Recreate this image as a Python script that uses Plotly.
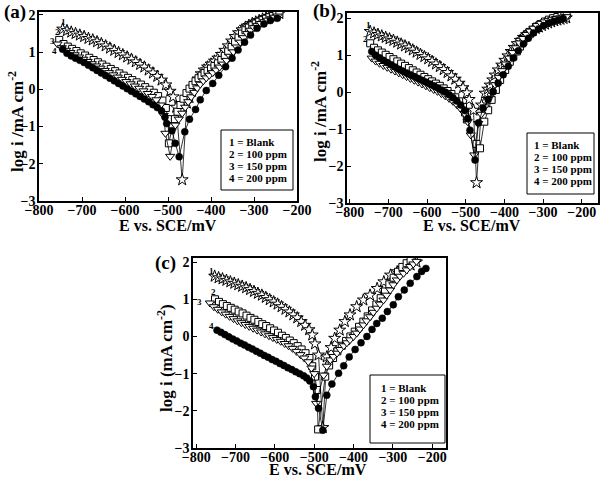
import plotly.graph_objects as go

# ---------------- DATA ----------------
# Panel (a)
a_blank_E = [-745,-735,-725,-715,-705,-695,-685,-675,-665,-655,-645,-635,-625,-615,-605,-595,-585,-575,-565,-555,-545,-535,-525,-515,-505,-495,-488,-481,-467,
             -456,-450,-444,-437,-430,-423,-416,-408,-400,-392,-384,-376,-368,-360,-352,-344,-336,-328,-320,-312,-304,-296,-288,-280,-272,-264,-256,-248,-241]
a_blank_I = [1.62,1.58,1.54,1.50,1.46,1.42,1.37,1.33,1.28,1.23,1.17,1.11,1.05,0.99,0.93,0.87,0.81,0.74,0.67,0.60,0.52,0.44,0.35,0.25,0.12,-0.05,-0.20,-0.48,-2.43,
             -0.37,-0.22,-0.05,0.12,0.28,0.42,0.52,0.60,0.68,0.76,0.84,0.94,1.05,1.17,1.30,1.42,1.52,1.60,1.67,1.72,1.77,1.81,1.85,1.89,1.93,1.96,1.99,2.02,2.04]

a_100_E = [-753,-743,-733,-723,-713,-703,-693,-683,-673,-663,-653,-643,-633,-623,-613,-603,-593,-583,-573,-563,-553,-543,-533,-523,-513,-505,-500,-498,
           -490,-484,-478,-471,-464,-457,-450,-443,-436,-429,-422,-415,-408,-400,-392,-384,-376,-368,-360,-352,-344,-336,-328,-320,-312,-304,-296,-288,-280,-272,-264,-256,-248,-241]
a_100_I = [1.33,1.22,1.15,1.09,1.03,0.97,0.91,0.85,0.79,0.73,0.67,0.61,0.55,0.49,0.43,0.37,0.31,0.25,0.19,0.13,0.06,-0.01,-0.09,-0.18,-0.30,-0.50,-0.80,-1.45,
           -1.0,-0.8,-0.6,-0.42,-0.25,-0.1,0.02,0.12,0.22,0.3,0.37,0.44,0.5,0.56,0.63,0.7,0.79,0.9,1.02,1.14,1.27,1.39,1.5,1.59,1.66,1.72,1.77,1.82,1.86,1.9,1.94,1.97,2.0,2.03]

a_150_E = [-757,-747,-737,-727,-717,-707,-697,-687,-677,-667,-657,-647,-637,-627,-617,-607,-597,-587,-577,-567,-557,-547,-537,-527,-517,-510,-506,-495,
           -483,-475,-467,-460,-453,-446,-439,-432,-425,-418,-411,-404,-396,-388,-380,-372,-364,-356,-348,-340,-332,-324,-316,-308,-300,-292,-284,-276,-268,-260,-252,-245]
a_150_I = [1.22,1.12,1.05,0.99,0.93,0.87,0.81,0.75,0.69,0.63,0.57,0.51,0.45,0.39,0.33,0.27,0.21,0.15,0.09,0.03,-0.04,-0.11,-0.19,-0.28,-0.42,-0.7,-1.18,-1.8,
           -0.96,-0.8,-0.64,-0.48,-0.33,-0.2,-0.08,0.04,0.14,0.23,0.31,0.38,0.45,0.52,0.6,0.68,0.78,0.89,1.01,1.14,1.27,1.39,1.5,1.59,1.66,1.72,1.77,1.82,1.86,1.9,1.94,1.97]

a_200_E = [-745,-735,-725,-715,-705,-695,-685,-675,-665,-655,-645,-635,-625,-615,-605,-595,-585,-575,-565,-555,-545,-535,-525,-515,-507,-503,-491,-483,-474,
           -461,-450,-436,-425,-411,-396,-382,-366,-351,-337,-322,-308,-293,-277,-262,-246]
a_200_I = [1.08,0.97,0.9,0.84,0.78,0.72,0.65,0.58,0.51,0.44,0.37,0.3,0.23,0.16,0.09,0.02,-0.05,-0.12,-0.19,-0.26,-0.33,-0.41,-0.49,-0.58,-0.75,-0.92,-1.11,-1.45,-1.81,
           -1.14,-0.8,-0.54,-0.28,-0.03,0.16,0.38,0.61,0.84,1.06,1.27,1.46,1.64,1.76,1.85,1.91]

# Panel (b)
b_blank_E = [-747,-737,-727,-717,-707,-697,-687,-677,-667,-657,-647,-637,-627,-617,-607,-597,-587,-577,-567,-557,-547,-537,-527,-517,-507,-497,-491,-480,-472,
             -459,-450,-443,-437,-430,-424,-416,-407,-399,-391,-383,-375,-367,-359,-351,-343,-335,-327,-319,-311,-303,-295,-287,-279,-271,-263,-255,-247,-240]
b_blank_I = [1.64,1.6,1.56,1.52,1.48,1.44,1.4,1.35,1.3,1.25,1.2,1.14,1.08,1.02,0.96,0.9,0.83,0.76,0.69,0.61,0.53,0.44,0.35,0.24,0.12,-0.02,-0.2,-0.49,-2.45,
             -0.35,-0.03,0.08,0.19,0.33,0.46,0.6,0.73,0.86,0.98,1.1,1.21,1.31,1.4,1.48,1.55,1.61,1.67,1.72,1.76,1.8,1.84,1.87,1.9,1.93,1.95,1.97,1.99,2.01]

b_100_E = [-747,-737,-727,-717,-707,-697,-687,-677,-667,-657,-647,-637,-627,-617,-607,-597,-587,-577,-567,-557,-547,-537,-527,-517,-507,-502,-497,-472,-463,
           -452,-442,-433,-422,-411,-398,-386,-377,-368,-360,-351,-343,-334,-326,-317,-306,-295,-285,-274,-263,-252,-245,-239]
b_100_I = [1.32,1.2,1.13,1.07,1.01,0.95,0.89,0.83,0.77,0.71,0.65,0.59,0.53,0.47,0.41,0.35,0.29,0.23,0.17,0.1,0.03,-0.05,-0.14,-0.25,-0.4,-0.55,-0.74,-1.4,-1.52,
           -0.8,-0.49,-0.21,0.06,0.33,0.6,0.82,0.96,1.1,1.23,1.37,1.48,1.59,1.68,1.77,1.84,1.91,1.96,2.0,2.03,2.06,2.08,2.09]

b_150_E = [-743,-733,-723,-713,-703,-693,-683,-673,-663,-653,-643,-633,-623,-613,-603,-593,-583,-573,-563,-553,-543,-533,-523,-513,-503,-495,-487,-478,
           -468,-460,-451,-442,-433,-424,-415,-406,-397,-388,-379,-370,-361,-352,-343,-334,-325,-316,-306,-296,-286,-276,-266,-256,-246,-240]
b_150_I = [0.92,0.84,0.78,0.72,0.67,0.62,0.57,0.52,0.47,0.42,0.37,0.32,0.27,0.22,0.17,0.12,0.07,0.02,-0.04,-0.1,-0.17,-0.25,-0.34,-0.45,-0.58,-0.8,-1.16,-1.7,
           -0.85,-0.6,-0.4,-0.2,0.0,0.2,0.4,0.58,0.76,0.92,1.07,1.2,1.33,1.45,1.56,1.65,1.73,1.8,1.86,1.9,1.94,1.97,1.99,2.01,2.03,2.04]

b_200_E = [-743,-733,-723,-713,-703,-693,-683,-673,-663,-653,-643,-633,-623,-613,-603,-593,-583,-573,-563,-553,-543,-533,-523,-513,-503,-495,-489,-476,
           -467,-455,-442,-429,-416,-403,-390,-377,-364,-351,-338,-325,-312,-299,-286,-273,-260,-248]
b_200_I = [1.1,1.0,0.93,0.86,0.8,0.74,0.68,0.62,0.57,0.52,0.47,0.42,0.37,0.32,0.27,0.22,0.17,0.12,0.06,0.0,-0.07,-0.15,-0.24,-0.35,-0.5,-0.72,-1.03,-1.84,
           -0.83,-0.44,-0.2,0.01,0.24,0.47,0.7,0.92,1.12,1.3,1.46,1.6,1.71,1.8,1.87,1.92,1.96,1.99]

# Panel (c)
c_blank_E = [-753,-743,-733,-723,-713,-703,-693,-683,-673,-663,-653,-643,-633,-623,-613,-603,-593,-583,-573,-563,-553,-543,-533,-523,-513,-505,-498,-489,-478,
             -468,-457,-448,-435,-422,-409,-392,-375,-358,-340,-323,-306,-289,-272,-255,-240]
c_blank_I = [1.62,1.58,1.55,1.51,1.47,1.43,1.39,1.35,1.31,1.26,1.21,1.16,1.11,1.05,0.99,0.93,0.87,0.8,0.73,0.66,0.58,0.5,0.4,0.3,0.18,0.04,-0.2,-0.5,-2.45,
             -0.55,-0.3,-0.05,0.17,0.4,0.58,0.8,0.98,1.11,1.29,1.47,1.65,1.74,1.83,1.92,2.0]

c_100_E = [-752,-742,-732,-722,-712,-702,-692,-682,-672,-662,-652,-642,-632,-622,-612,-602,-592,-582,-572,-562,-552,-542,-532,-522,-512,-505,-498,-493,-490,
           -472,-462,-452,-441,-430,-419,-408,-397,-386,-375,-364,-353,-342,-331,-320,-309,-298,-287,-276,-265,-255]
c_100_I = [1.0,0.93,0.87,0.82,0.77,0.72,0.67,0.62,0.56,0.5,0.45,0.39,0.33,0.28,0.22,0.16,0.1,0.02,-0.04,-0.11,-0.18,-0.26,-0.35,-0.45,-0.58,-0.8,-1.08,-1.44,-2.5,
           -1.08,-0.78,-0.58,-0.4,-0.25,-0.12,0.0,0.13,0.26,0.4,0.54,0.7,0.86,1.03,1.21,1.4,1.58,1.74,1.87,1.97,2.05]

c_150_E = [-765,-755,-745,-735,-725,-715,-705,-695,-685,-675,-665,-655,-645,-635,-625,-615,-605,-595,-585,-575,-565,-555,-545,-535,-525,-515,-507,-500,-495,
           -476,-468,-459,-451,-442,-434,-425,-417,-409,-400,-392,-384,-375,-367,-358,-350,-341,-333,-324,-316,-307,-299,-290,-282,-273,-265,-256,-248,-240]
c_150_I = [0.9,0.8,0.73,0.66,0.6,0.54,0.48,0.42,0.37,0.32,0.27,0.22,0.17,0.12,0.07,0.02,-0.03,-0.08,-0.13,-0.19,-0.25,-0.32,-0.4,-0.49,-0.58,-0.68,-0.85,-1.0,-1.8,
           -1.04,-0.8,-0.63,-0.54,-0.45,-0.35,-0.25,-0.17,-0.09,0.0,0.09,0.2,0.31,0.42,0.53,0.65,0.76,0.87,0.98,1.11,1.25,1.39,1.52,1.62,1.7,1.79,1.88,1.95,2.02]

c_200_E = [-747,-737,-727,-717,-707,-697,-687,-677,-667,-657,-647,-637,-627,-617,-607,-597,-587,-577,-567,-557,-547,-537,-527,-519,-511,-502,-497,-489,-478,
           -468,-455,-438,-425,-411,-396,-381,-366,-353,-341,-327,-314,-299,-286,-271,-256,-239,-227,-216]
c_200_I = [0.17,0.11,0.05,-0.01,-0.07,-0.12,-0.18,-0.23,-0.29,-0.34,-0.4,-0.45,-0.51,-0.56,-0.62,-0.67,-0.73,-0.78,-0.84,-0.89,-0.95,-1.0,-1.06,-1.12,-1.2,-1.35,-1.62,-1.93,-2.52,
           -1.58,-1.28,-0.99,-0.79,-0.55,-0.35,-0.17,0.0,0.19,0.35,0.49,0.67,0.85,1.07,1.25,1.43,1.61,1.75,1.83]

x_tick_vals = [-800, -700, -600, -500, -400, -300, -200]
y_tick_vals = [-3, -2, -1, 0, 1, 2]
legend_lines = ["1 = Blank", "2 = 100 ppm", "3 = 150 ppm", "4 = 200 ppm"]

# ---------------- FIGURE ----------------
W, H = 604, 480
FONT = "Liberation Serif"

def fx(px):
    return px / W

def fy(py):
    return 1 - py / H

panels = {
    "a": dict(xa="x", ya="y", xdom=[fx(39), fx(297)], ydom=[fy(201), fy(12)],
              xr=[-800, -200], yr=[-3, 2.08],
              series=[(a_blank_E, a_blank_I), (a_100_E, a_100_I), (a_150_E, a_150_I), (a_200_E, a_200_I)]),
    "b": dict(xa="x2", ya="y2", xdom=[fx(347), fx(598)], ydom=[fy(203), fy(13)],
              xr=[-807, -158], yr=[-3.0, 2.14],
              series=[(b_blank_E, b_blank_I), (b_100_E, b_100_I), (b_150_E, b_150_I), (b_200_E, b_200_I)]),
    "c": dict(xa="x3", ya="y3", xdom=[fx(193), fx(446)], ydom=[fy(448), fy(258)],
              xr=[-808, -165], yr=[-3, 2.11],
              series=[(c_blank_E, c_blank_I), (c_100_E, c_100_I), (c_150_E, c_150_I), (c_200_E, c_200_I)]),
}

marker_styles = [
    dict(symbol="star", size=9, color="white", line=dict(color="black", width=1)),
    dict(symbol="square", size=7, color="white", line=dict(color="black", width=1)),
    dict(symbol="triangle-down", size=8, color="white", line=dict(color="black", width=1)),
    dict(symbol="circle", size=7, color="black", line=dict(color="black", width=0.5)),
]

fig = go.Figure()
for key, p in panels.items():
    for (E, I), ms in zip(p["series"], marker_styles):
        assert len(E) == len(I), (key, len(E), len(I))
        fig.add_trace(go.Scatter(x=E, y=I, mode="lines+markers", xaxis=p["xa"], yaxis=p["ya"],
                                 line=dict(color="black", width=0.8), marker=ms,
                                 showlegend=False, hoverinfo="skip"))

tickfont = dict(family=FONT, size=14, color="black", weight=700)
layout = dict(width=W, height=H, autosize=False,
              margin=dict(l=0, r=0, t=0, b=0, pad=0, autoexpand=False),
              paper_bgcolor="white", plot_bgcolor="white", showlegend=False)

for key, p in panels.items():
    xname = "xaxis" + p["xa"][1:]
    yname = "yaxis" + p["ya"][1:]
    layout[xname] = dict(domain=p["xdom"], range=p["xr"], anchor=p["ya"], automargin=False,
                         tickvals=x_tick_vals, ticks="inside", ticklen=4, tickwidth=1,
                         ticklabelstandoff=-5,
                         tickcolor="black", showline=True, linecolor="black", linewidth=1.5,
                         mirror=True, showgrid=False, zeroline=False, tickfont=tickfont)
    layout[yname] = dict(domain=p["ydom"], range=p["yr"], anchor=p["xa"], automargin=False,
                         tickvals=y_tick_vals, ticks="inside", ticklen=4, tickwidth=1,
                         ticklabelstandoff=-1,
                         tickcolor="black", showline=True, linecolor="black", linewidth=1.5,
                         mirror=True, showgrid=False, zeroline=False, tickfont=tickfont)
fig.update_layout(**layout)

ann = []
def add_text(text, x, y, size, xref="paper", yref="paper", angle=0, xanchor="center", yanchor="middle"):
    ann.append(dict(text=text, x=x, y=y, xref=xref, yref=yref, showarrow=False,
                    textangle=angle, xanchor=xanchor, yanchor=yanchor,
                    font=dict(family=FONT, size=size, color="black", weight=700)))

# panel letters
add_text("(a)", fx(15), fy(12), 19)
add_text("(b)", fx(324), fy(11), 19)
add_text("(c)", fx(165), fy(263), 19)

# axis titles
add_text("E vs. SCE/mV", fx(168), fy(225), 16)
add_text("E vs. SCE/mV", fx(472), fy(225), 16)
add_text("E vs. SCE/mV", fx(318), fy(469), 16)
add_text("log i /mA cm<sup>-2</sup>", fx(16), fy(122), 17, angle=-90)
add_text("log i /mA cm<sup>-2</sup>", fx(319), fy(112), 17, angle=-90)
add_text("log i (mA cm<sup>-2</sup>)", fx(165), fy(358), 17, angle=-90)

# legend boxes
boxes = {"a": (221, 130, 293, 190, 227, [142, 154, 166, 178]),
         "b": (527, 133, 594, 194, 532, [145, 157, 169, 181]),
         "c": (370, 375, 445, 443, 379, [388, 400, 412, 424])}
shapes = []
for key, (x0, y0, x1, y1, tx, ys) in boxes.items():
    shapes.append(dict(type="rect", xref="paper", yref="paper", x0=fx(x0), y0=fy(y1), x1=fx(x1), y1=fy(y0),
                       line=dict(color="black", width=1), fillcolor="white", layer="above"))
    for line_text, yy in zip(legend_lines, ys):
        add_text(line_text, fx(tx), fy(yy), 11, xanchor="left")

# curve number labels (data coordinates)
curve_labels = [
    ("1", -744, 1.82, "x", "y"), ("2", -758, 1.53, "x", "y"), ("3", -768, 1.3, "x", "y"), ("4", -764, 1.03, "x", "y"),
    ("1", -752, 1.82, "x2", "y2"), ("2", -758, 1.43, "x2", "y2"),
    ("1", -760, 1.76, "x3", "y3"), ("2", -756, 1.2, "x3", "y3"), ("3", -792, 0.93, "x3", "y3"), ("4", -760, 0.28, "x3", "y3"),
]
for t, xx, yy, xr, yr in curve_labels:
    add_text(t, xx, yy, 9, xref=xr, yref=yr)

fig.update_layout(annotations=ann, shapes=shapes)
fig.write_html("out.html", config={"responsive": False, "displayModeBar": False},
               post_script="document.body.style.margin='0';")
